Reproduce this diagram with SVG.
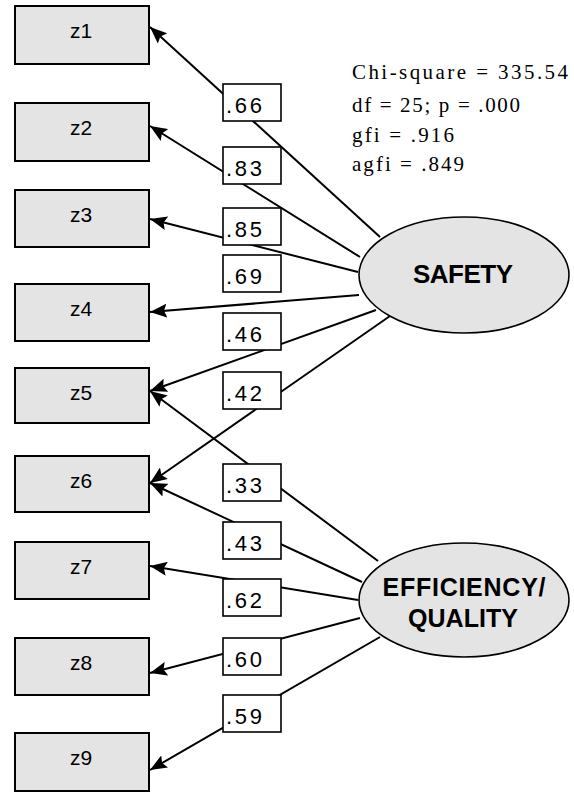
<svg xmlns="http://www.w3.org/2000/svg" width="574" height="793" viewBox="0 0 574 793">
  <style>
    .ind rect { fill: #e4e4e4; stroke: #000; stroke-width: 2; }
    .ind text { font-family: "Liberation Sans", Arial, sans-serif; font-size: 21px; text-anchor: middle; fill: #000; }
    .lat ellipse { fill: #e4e4e4; stroke: #000; stroke-width: 1.6; }
    .lat text { font-family: "Liberation Sans", Arial, sans-serif; font-weight: bold; font-size: 25px; text-anchor: middle; fill: #000; }
    .edges line { stroke: #000; stroke-width: 2; marker-end: url(#head); }
    .wt rect { fill: #fff; stroke: #000; stroke-width: 1.6; }
    .wt text { font-family: "Liberation Sans", Arial, sans-serif; font-size: 22px; fill: #000; }
    .fit text { font-family: "Liberation Serif", "Times New Roman", serif; font-size: 21px; fill: #000; }
  </style>
  <defs>
    <marker id="head" markerUnits="userSpaceOnUse" markerWidth="18" markerHeight="14" refX="17" refY="7" orient="auto">
      <path d="M0,0 L17,7 L0,14 L3,7 z" fill="#000"/>
    </marker>
  </defs>
  <rect width="574" height="793" fill="#fff"/>

  <!-- loadings: latent factor to indicator -->
  <g class="edges">
    <line x1="380" y1="237" x2="150" y2="27"/>
    <line x1="360" y1="257" x2="150" y2="126"/>
    <line x1="358" y1="272" x2="150" y2="219"/>
    <line x1="359" y1="295" x2="150" y2="312"/>
    <line x1="376" y1="310" x2="150" y2="391"/>
    <line x1="390" y1="316" x2="150" y2="483"/>
    <line x1="378" y1="561" x2="150" y2="391"/>
    <line x1="362" y1="582" x2="150" y2="483"/>
    <line x1="358" y1="600" x2="150" y2="566"/>
    <line x1="360" y1="618" x2="150" y2="673"/>
    <line x1="380" y1="637" x2="150" y2="770"/>
  </g>

  <!-- loading values -->
  <g class="wt" id="weights">
    <rect x="223" y="84" width="58" height="37"/><text x="226" y="113" textLength="36">.66</text>
    <rect x="223" y="147" width="58" height="37"/><text x="226" y="176" textLength="36">.83</text>
    <rect x="223" y="208" width="58" height="37"/><text x="226" y="237" textLength="36">.85</text>
    <rect x="223" y="255" width="58" height="37"/><text x="226" y="284" textLength="36">.69</text>
    <rect x="223" y="313" width="58" height="37"/><text x="226" y="342" textLength="36">.46</text>
    <rect x="223" y="372" width="58" height="37"/><text x="226" y="401" textLength="36">.42</text>
    <rect x="223" y="464" width="58" height="37"/><text x="226" y="493" textLength="36">.33</text>
    <rect x="223" y="522" width="58" height="37"/><text x="226" y="551" textLength="36">.43</text>
    <rect x="223" y="579" width="58" height="37"/><text x="226" y="608" textLength="36">.62</text>
    <rect x="223" y="638" width="58" height="37"/><text x="226" y="667" textLength="36">.60</text>
    <rect x="223" y="695" width="58" height="37"/><text x="226" y="724" textLength="36">.59</text>
  </g>

  <!-- observed indicators -->
  <g class="ind" id="z1"><rect x="15" y="6" width="134" height="58"/><text x="81" y="38">z1</text></g>
  <g class="ind" id="z2"><rect x="15" y="103" width="134" height="58"/><text x="81" y="135">z2</text></g>
  <g class="ind" id="z3"><rect x="15" y="190" width="134" height="57"/><text x="81" y="222">z3</text></g>
  <g class="ind" id="z4"><rect x="15" y="284" width="134" height="57"/><text x="81" y="316">z4</text></g>
  <g class="ind" id="z5"><rect x="15" y="368" width="134" height="55"/><text x="81" y="400">z5</text></g>
  <g class="ind" id="z6"><rect x="15" y="456" width="134" height="56"/><text x="81" y="488">z6</text></g>
  <g class="ind" id="z7"><rect x="15" y="542" width="134" height="57"/><text x="81" y="574">z7</text></g>
  <g class="ind" id="z8"><rect x="15" y="638" width="134" height="57"/><text x="81" y="670">z8</text></g>
  <g class="ind" id="z9"><rect x="15" y="733" width="134" height="58"/><text x="81" y="765">z9</text></g>

  <!-- latent factors -->
  <g class="lat" id="safety">
    <ellipse cx="464" cy="275" rx="105" ry="58"/>
    <text x="463" y="283" textLength="100" style="font-size:26px">SAFETY</text>
  </g>
  <g class="lat" id="efficiency">
    <ellipse cx="464" cy="600" rx="105" ry="57"/>
    <text x="464" y="596" textLength="163">EFFICIENCY/</text>
    <text x="463" y="627" textLength="110">QUALITY</text>
  </g>

  <!-- model fit statistics -->
  <g class="fit" id="fit">
    <text x="352" y="79" textLength="216">Chi-square = 335.54</text>
    <text x="352" y="112" textLength="168">df = 25; p = .000</text>
    <text x="352" y="142" textLength="102">gfi = .916</text>
    <text x="352" y="171" textLength="112">agfi = .849</text>
  </g>
</svg>
